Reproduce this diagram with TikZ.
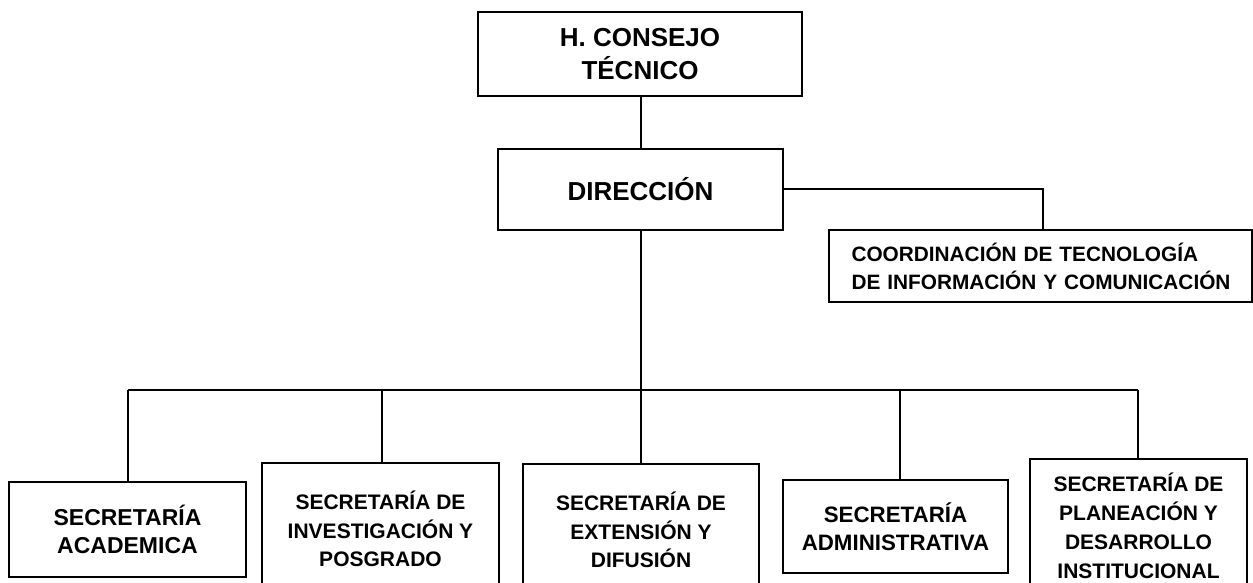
\documentclass[tikz,border=0pt]{standalone}
\usepackage{fontspec}
\setmainfont{Liberation Sans}
\usepackage{tikz}
\usetikzlibrary{positioning}

\begin{document}
\begin{tikzpicture}[x=1pt, y=-1pt, line width=1.5pt,
	caja/.style={draw, rectangle, inner sep=0pt, align=center,
		font=\bfseries\fontsize{21}{28.3}\selectfont},
	cajab/.style={caja, minimum width=237pt, minimum height=132pt}]
	\useasboundingbox (0,0) rectangle (1253,582);
	\clip (0,0) rectangle (1253,582);
	% Niveles superiores
	\node [caja, minimum width=324pt, minimum height=84pt,
		font=\bfseries\fontsize{26}{33}\selectfont] (consejo) at (640,54)
		{H. CONSEJO\\TÉCNICO};
	\node [caja, minimum width=285pt, minimum height=81pt,
		font=\bfseries\fontsize{26}{30}\selectfont] (dir) at (640.5,189.5)
		{DIRECCIÓN};
	\node [caja, minimum width=423pt, minimum height=72pt, inner xsep=19.5pt,
		text width=384pt, align=left,
		font=\bfseries\fontsize{20.8}{28}\selectfont] (coord) at (1040.5,266)
		{\hspace*{3pt}COORDINACIÓN DE TECNOLOGÍA\\\hspace*{3pt}DE INFORMACIÓN Y COMUNICACIÓN};
	% Secretarías
	\node [caja, minimum width=237pt, minimum height=95pt,
		font=\bfseries\fontsize{23}{28.3}\selectfont] (acad) at (127.5,529.5)
		{SECRETARÍA\\ACADEMICA};
	\node [cajab] (inv) at (380.5,529) {SECRETARÍA DE\\INVESTIGACIÓN Y\\POSGRADO};
	\node [cajab, minimum width=236pt] (ext) at (641,530) {SECRETARÍA DE\\EXTENSIÓN Y\\DIFUSIÓN};
	\node [caja, minimum width=225pt, minimum height=93pt,
		font=\bfseries\fontsize{22.3}{28.3}\selectfont] (adm) at (895.5,526.5)
		{SECRETARÍA\\ADMINISTRATIVA};
	\node [cajab, minimum width=217pt, minimum height=134pt,
		font=\bfseries\fontsize{21}{29}\selectfont] (plan) at (1138.5,526)
		{SECRETARÍA DE\\PLANEACIÓN Y\\DESARROLLO\\INSTITUCIONAL};
	% Lineas
	\coordinate (bus) at (641,390);
	\coordinate (bacad) at (128,390);
	\coordinate (binv) at (382,390);
	\coordinate (badm) at (900,390);
	\coordinate (bplan) at (1138,390);
	\coordinate (esq) at (1043,189);
	\draw (consejo.south -| bus) -- (dir.north -| bus);
	\draw (dir.south -| bus) -- (bus);
	\draw (dir.east |- esq) -- (esq) -- (esq |- coord.north);
	\draw (bacad) -- (bplan);
	\draw (bacad) -- (bacad |- acad.north);
	\draw (binv) -- (binv |- inv.north);
	\draw (bus) -- (bus |- ext.north);
	\draw (badm) -- (badm |- adm.north);
	\draw (bplan) -- (bplan |- plan.north);
\end{tikzpicture}
\end{document}
